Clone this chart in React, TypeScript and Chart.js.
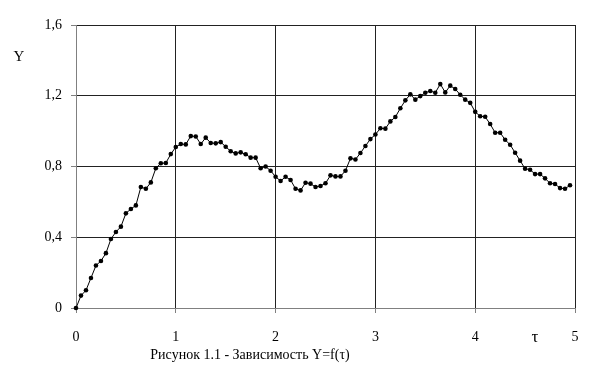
import React, { useEffect, useRef } from "react";
import { Chart, registerables } from "chart.js";

Chart.register(...registerables);

const tValues: number[] = Array.from({ length: 100 }, (_, i) => Math.round(i * 5) / 100);
const yValues: number[] = [
  0.0, 0.07, 0.1, 0.17, 0.24, 0.266, 0.31, 0.39, 0.43, 0.46,
  0.535, 0.56, 0.58, 0.684, 0.674, 0.71, 0.79, 0.818, 0.82, 0.87,
  0.91, 0.927, 0.925, 0.972, 0.97, 0.927, 0.963, 0.933, 0.931, 0.938,
  0.912, 0.886, 0.874, 0.88, 0.869, 0.85, 0.85, 0.79, 0.8, 0.776,
  0.742, 0.718, 0.742, 0.724, 0.674, 0.665, 0.708, 0.703, 0.684, 0.69,
  0.705, 0.75, 0.744, 0.744, 0.776, 0.846, 0.84, 0.876, 0.916, 0.955,
  0.981, 1.016, 1.014, 1.055, 1.08, 1.129, 1.174, 1.208, 1.178, 1.198,
  1.217, 1.227, 1.217, 1.266, 1.219, 1.257, 1.238, 1.206, 1.178, 1.16,
  1.109, 1.084, 1.081, 1.04, 0.991, 0.991, 0.951, 0.923, 0.878, 0.833,
  0.787, 0.782, 0.757, 0.757, 0.733, 0.705, 0.701, 0.678, 0.674, 0.694,
];
const yTicks: number[] = [0, 0.4, 0.8, 1.2, 1.6];
const xTicks: number[] = [0, 1, 2, 3, 4, 5];
const yAxisLabel = "Y";
const xAxisLabel = "τ";
const caption = "Рисунок 1.1 - Зависимость Y=f(τ)";

const FONT = "'Liberation Serif', 'DejaVu Serif', serif";

const labelsPlugin = {
  id: "labelsPlugin",
  afterDraw(chart: any) {
    const ctx = chart.ctx;
    ctx.save();
    ctx.fillStyle = "#000";
    ctx.textAlign = "center";
    ctx.textBaseline = "middle";
    ctx.font = `15px ${FONT}`;
    ctx.fillText(yAxisLabel, 19, 57);
    ctx.font = `17px ${FONT}`;
    ctx.fillText(xAxisLabel, 535, 338);
    ctx.font = `14px ${FONT}`;
    ctx.fillText(caption, 250, 355);
    ctx.restore();
  },
};

export default function App() {
  const ref = useRef<HTMLCanvasElement | null>(null);
  useEffect(() => {
    if (!ref.current) return;
    const chart = new Chart(ref.current, {
      type: "scatter",
      data: {
        datasets: [
          {
            data: tValues.map((t, i) => ({ x: t, y: yValues[i] })),
            showLine: true,
            clip: false,
            borderColor: "#000",
            borderWidth: 1,
            backgroundColor: "#000",
            pointBackgroundColor: "#000",
            pointBorderColor: "#000",
            pointStyle: "circle",
            pointRadius: 2.3,
            pointBorderWidth: 0,
            tension: 0,
          },
        ],
      },
      options: {
        animation: false,
        responsive: false,
        maintainAspectRatio: false,
        layout: { padding: { top: 25, right: 15, left: 0, bottom: 0 } },
        plugins: { legend: { display: false }, tooltip: { enabled: false } },
        scales: {
          x: {
            type: "linear",
            min: 0,
            max: 5,
            afterBuildTicks: (s: any) => {
              s.ticks = xTicks.map((v) => ({ value: v }));
            },
            afterFit: (s: any) => {
              s.height = 80;
              s.paddingRight = 0;
              s.paddingLeft = 0;
            },
            ticks: {
              color: "#000",
              font: { family: FONT, size: 14 },
              padding: 16,
              maxRotation: 0,
              callback: (v: any) => String(v),
            },
            grid: {
              color: "#222",
              lineWidth: 1,
              borderDash: [1, 1],
              tickLength: 5,
              tickColor: "#808080",
              tickBorderDash: [],
            },
            border: { display: true, color: "#808080", width: 1 },
          },
          y: {
            type: "linear",
            min: 0,
            max: 1.6,
            afterBuildTicks: (s: any) => {
              s.ticks = yTicks.map((v) => ({ value: v }));
            },
            afterFit: (s: any) => {
              s.width = 76;
              s.paddingTop = 0;
              s.paddingBottom = 0;
            },
            ticks: {
              color: "#000",
              font: { family: FONT, size: 14 },
              padding: 9,
              callback: (v: any) => (v === 0 ? "0" : Number(v).toFixed(1).replace(".", ",")),
            },
            grid: {
              color: "#222",
              lineWidth: 1,
              borderDash: [1, 1],
              tickLength: 5,
              tickColor: "#808080",
              tickBorderDash: [],
            },
            border: { display: true, color: "#808080", width: 1 },
          },
        },
      },
      plugins: [labelsPlugin],
    } as any);
    return () => chart.destroy();
  }, []);
  return (
    <div style={{ position: "fixed", left: 0, top: 0, width: 590, height: 388, background: "#fff" }}>
      <canvas ref={ref} width={590} height={388} style={{ display: "block", width: 590, height: 388 }} />
    </div>
  );
}
